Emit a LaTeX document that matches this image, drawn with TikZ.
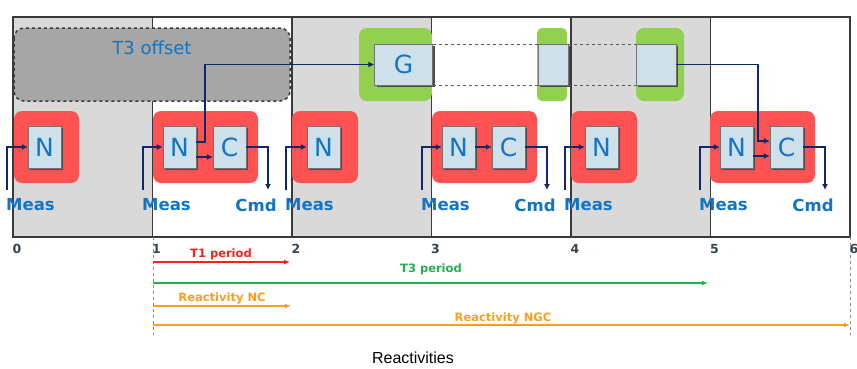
\documentclass[tikz,border=0pt]{standalone}
\usepackage{fontspec}
\setmainfont{DejaVu Sans}
\newfontfamily\helvfont{Liberation Sans}
\usetikzlibrary{shadows,arrows.meta}
\definecolor{slotgray}{HTML}{D9D9D9}
\definecolor{framegray}{HTML}{3A3A3A}
\definecolor{offsetgray}{HTML}{A6A6A6}
\definecolor{boxblue}{HTML}{CEE0EA}
\definecolor{txtblue}{HTML}{1474C4}
\definecolor{navy}{HTML}{0C2A6B}
\definecolor{taskred}{HTML}{FF5252}
\definecolor{taskgreen}{HTML}{92D050}
\definecolor{tickgray}{HTML}{34454F}
\definecolor{perred}{HTML}{FF1F1F}
\definecolor{pergreen}{HTML}{22B24C}
\definecolor{perorange}{HTML}{FF9D1C}
\begin{document}
\begin{tikzpicture}[x=1pt,y=-1pt,
    blk/.style={draw=black!55, fill=boxblue, text=txtblue, inner sep=0pt,
        minimum width=33pt, minimum height=42pt,
        font=\fontsize{25}{25}\selectfont,
        drop shadow={shadow xshift=2pt,shadow yshift=-2pt,fill=black!70,opacity=1}},
    meas/.style={text=txtblue, inner sep=0pt, font=\fontsize{16.5}{17}\selectfont\bfseries},
    arr/.style={draw=navy, line width=1.8pt, -{Latex[length=6pt,width=6pt]}},
    per/.style={line width=1.6pt, -{Latex[length=6pt,width=5pt]}},
    perlbl/.style={font=\fontsize{11.5}{12}\selectfont\bfseries}]
    \useasboundingbox (0,0) rectangle (857,368);

    % Slot kolom dan bingkai
    \foreach \i/\c in {0/slotgray,1/white,2/slotgray,3/white,4/slotgray,5/white}
        \fill[\c] (13+139.5*\i,17) rectangle (13+139.5*\i+139.5,237);
    \foreach \i in {1,...,5} \draw[framegray, line width=1.6pt] (13+139.5*\i,17) -- (13+139.5*\i,237);
    \draw[framegray, line width=1.6pt] (13,17) rectangle (850,237);
    \foreach \i in {0,...,6}
        \node[text=tickgray, font=\fontsize{12.5}{13}\selectfont\bfseries] (t\i) at (17+139.5*\i,249) {\i};

    % Offset T3
    \draw[framegray, dashed, line width=1.5pt, fill=offsetgray, rounded corners=10pt] (14,28) rectangle (290,101);
    \node[text=txtblue, font=\fontsize{18}{18}\selectfont] (off) at (152,48) {T3 offset};

    % Latar tugas
    \foreach \xa/\xb in {14/79,153/258,292/358,432/537,571/637,710/815}
        \fill[taskred, rounded corners=8pt] (\xa,111) rectangle (\xb,183);
    \fill[taskgreen, rounded corners=8pt] (359,28) rectangle (432,101);
    \fill[taskgreen, rounded corners=5pt] (537,28) rectangle (567,101);
    \fill[taskgreen, rounded corners=8pt] (636,28) rectangle (684,101);

    % Blok N, C, G
    \node[blk] (n0) at (44.5,147) {N};
    \node[blk] (n1) at (179.5,147) {N};
    \node[blk] (c1) at (229.5,147) {C};
    \node[blk] (n2) at (323.5,147) {N};
    \node[blk] (n3) at (458.5,147) {N};
    \node[blk] (c3) at (508.5,147) {C};
    \node[blk] (n4) at (601.5,147) {N};
    \node[blk] (n5) at (736.5,147) {N};
    \node[blk] (c5) at (786.5,147) {C};
    \node[blk, minimum width=58pt, minimum height=41pt] (g1) at (403.5,64.5) {G};
    \node[blk, minimum width=30pt, minimum height=41pt] (g2) at (553,64.5) {};
    \node[blk, minimum width=40pt, minimum height=41pt] (g3) at (656,64.5) {};
    \draw[black!65, dashed, thin] (g1.north east) -- (g2.north west);
    \draw[black!65, dashed, thin] (g1.south east) -- (g2.south west);
    \draw[black!65, dashed, thin] (g2.north east) -- (g3.north west);
    \draw[black!65, dashed, thin] (g2.south east) -- (g3.south west);

    % Label Meas dan Cmd
    \foreach \k/\x in {0/7,1/143,2/286,3/422,4/565,5/700} {
        \coordinate (m\k) at (\x,190);
        \node[meas, anchor=west] (lm\k) at (\x-1,205) {Meas};
    }
    \foreach \k/\x in {1/268,3/547,5/825} {
        \coordinate (k\k) at (\x,190);
        \node[meas] (lc\k) at (\x-12,205) {Cmd};
    }

    % Aliran data
    \draw[arr] (m0) |- (n0.west);
    \draw[arr] (m1) |- (n1.west);
    \draw[arr] (m2) |- (n2.west);
    \draw[arr] (m3) |- (n3.west);
    \draw[arr] (m4) |- (n4.west);
    \draw[arr] (m5) |- (n5.west);
    \draw[arr] ([yshift=-10pt]n1.east) -- ([yshift=-10pt]c1.west);
    \draw[arr] (n3) -- (c3);
    \draw[arr] ([yshift=-9pt]n5.east) -- ([yshift=-9pt]c5.west);
    \draw[arr] ([yshift=5pt]n1.east) -- ++(9,0) |- (g1.west);
    \draw[arr] (g3.east) -| ([xshift=-12pt,yshift=6pt]c5.west) -- ([yshift=6pt]c5.west);
    \draw[arr] (c1.east) -| (k1);
    \draw[arr] (c3.east) -| (k3);
    \draw[arr] (c5.east) -| (k5);

    % Periode dan reaktivitas
    \coordinate (p1) at (153,237);
    \coordinate (p1b) at (153,335);
    \coordinate (p6) at (850,237);
    \coordinate (p6b) at (850,335);
    \draw[black!45, dashed, thin] (p1) -- (p1b);
    \draw[black!45, dashed, thin] (p6) -- (p6b);
    \draw[per, perred] (153,262) -- (290,262);
    \node[perlbl, text=perred] (lt1) at (221,254) {T1 period};
    \draw[per, pergreen] (153,283) -- (708,283);
    \node[perlbl, text=pergreen] (lt3) at (431,269) {T3 period};
    \draw[per, perorange] (153,306) -- (291,306);
    \node[perlbl, text=perorange] (lnc) at (222,298) {Reactivity NC};
    \draw[per, perorange] (153,325) -- (850,325);
    \node[perlbl, text=perorange] (lngc) at (503,318) {Reactivity NGC};

    \node[font=\helvfont\fontsize{16}{16}\selectfont] (title) at (413,358) {Reactivities};
\end{tikzpicture}
\end{document}
